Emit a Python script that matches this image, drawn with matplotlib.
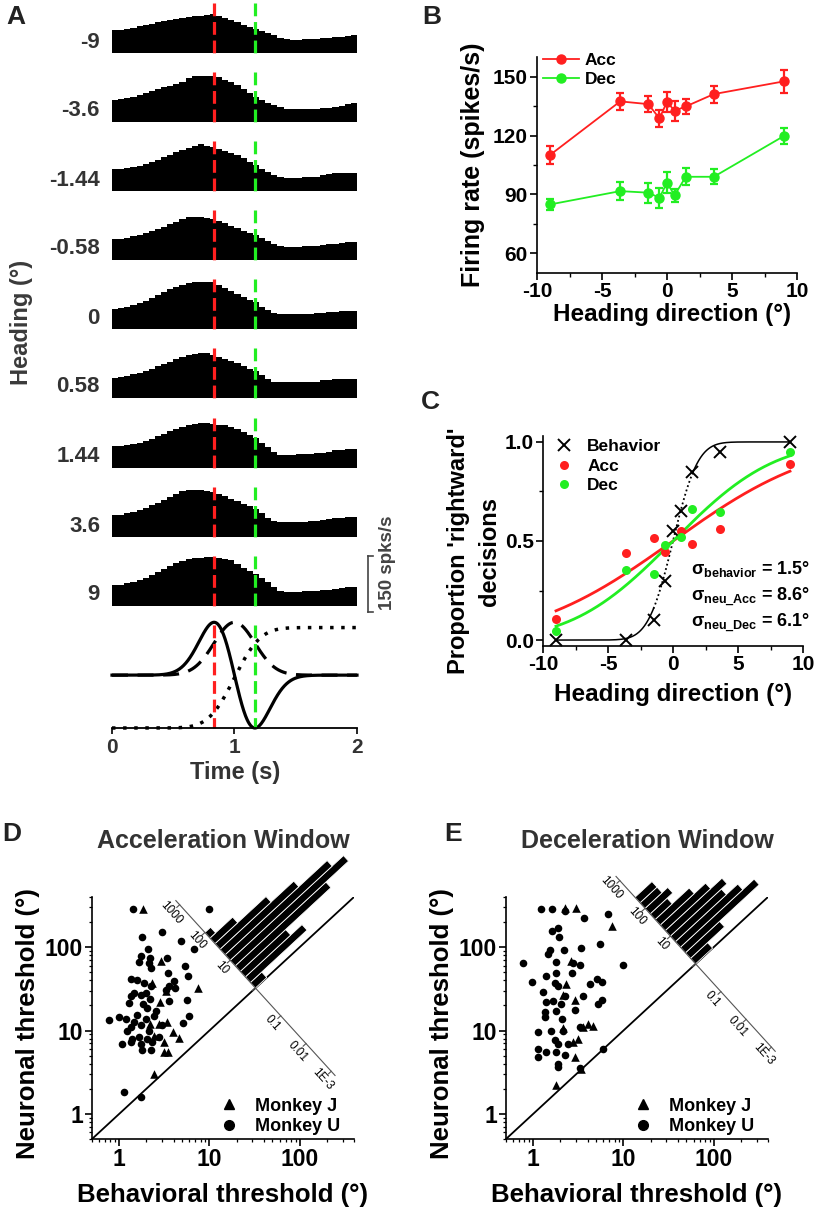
import numpy as np
import matplotlib
matplotlib.use("Agg")
import matplotlib.pyplot as plt
from matplotlib.transforms import Affine2D
from matplotlib.lines import Line2D
from matplotlib.ticker import MultipleLocator, FixedLocator, LogLocator, NullFormatter
from math import erf

plt.rcParams['font.family'] = ['Liberation Sans', 'DejaVu Sans']
plt.rcParams['font.weight'] = 'bold'
plt.rcParams['axes.labelweight'] = 'bold'
plt.rcParams['mathtext.fontset'] = 'custom'
plt.rcParams['mathtext.rm'] = 'Liberation Sans:bold'
plt.rcParams['mathtext.it'] = 'Liberation Sans:bold'
plt.rcParams['mathtext.bf'] = 'Liberation Sans:bold'
plt.rcParams['axes.unicode_minus'] = False

# ---------------------------------------------------------------- data
# Panel A : PSTHs (spikes/s), 40 bins of 50 ms over the 2-s stimulus
heading_labels = ['-9', '-3.6', '-1.44', '-0.58', '0', '0.58', '1.44', '3.6', '9']
psth_edges = np.linspace(0, 2, 41)
psth_m9 = [62, 62, 63, 67, 71, 75, 79, 82, 85, 88, 92, 95, 97, 99, 100, 102, 104, 100, 95, 88,
           82, 75, 70, 64, 59, 54, 47, 41, 37, 36, 36, 37, 37, 38, 39, 41, 42, 44, 46, 48]
psth_m36 = [60, 62, 65, 68, 72, 78, 84, 88, 93, 97, 101, 106, 118, 123, 124, 124, 124, 120, 113, 106,
            98, 88, 78, 66, 58, 52, 46, 40, 36, 35, 35, 35, 35, 36, 37, 38, 40, 44, 48, 52]
psth_m144 = [58, 59, 61, 64, 67, 72, 78, 84, 90, 97, 104, 110, 116, 121, 125, 121, 117, 113, 108, 103,
             96, 88, 79, 70, 60, 52, 44, 38, 36, 36, 36, 37, 37, 38, 42, 46, 47, 48, 49, 49]
psth_m058 = [55, 57, 60, 63, 67, 71, 77, 83, 89, 96, 103, 110, 115, 116, 116, 113, 109, 104, 98, 91,
             85, 79, 73, 67, 58, 50, 43, 37, 36, 36, 36, 37, 37, 38, 40, 42, 44, 46, 48, 49]
psth_0 = [54, 56, 60, 64, 69, 74, 82, 90, 99, 106, 112, 118, 124, 125, 125, 125, 125, 118, 110, 101,
          93, 85, 78, 71, 60, 50, 42, 40, 40, 40, 40, 41, 41, 42, 43, 45, 46, 47, 48, 49]
psth_p058 = [54, 56, 59, 63, 67, 72, 78, 85, 91, 97, 104, 110, 116, 119, 121, 120, 116, 111, 105, 99,
             93, 85, 78, 71, 61, 50, 43, 42, 42, 42, 42, 42, 42, 44, 48, 49, 50, 50, 51, 51]
psth_p144 = [58, 59, 61, 64, 67, 72, 78, 85, 92, 98, 104, 110, 116, 119, 121, 120, 118, 116, 114, 110,
             104, 97, 89, 80, 68, 55, 42, 36, 36, 36, 37, 37, 38, 39, 41, 44, 47, 49, 51, 52]
psth_p36 = [58, 60, 64, 68, 72, 78, 85, 92, 98, 106, 114, 122, 127, 127, 127, 124, 121, 115, 109, 103,
            96, 88, 82, 76, 64, 50, 42, 40, 40, 40, 41, 41, 42, 44, 46, 48, 50, 52, 53, 54]
psth_p9 = [55, 57, 61, 65, 69, 75, 83, 91, 100, 108, 115, 121, 127, 128, 129, 130, 130, 128, 125, 122,
           112, 102, 94, 87, 76, 64, 52, 41, 38, 38, 38, 39, 39, 40, 42, 44, 46, 48, 50, 51]
psth_rows = [psth_m9, psth_m36, psth_m144, psth_m058, psth_0, psth_p058, psth_p144, psth_p36, psth_p9]
t_acc_peak = 0.833
t_dec_peak = 1.167
stim_center = 1.0      # s, Gaussian velocity profile
stim_sigma = 1.0 / 6   # s
scale_bar_value = 150  # spks/s

# Panel B
headings = [-9, -3.6, -1.44, -0.58, 0, 0.58, 1.44, 3.6, 9]
acc_rate = [110.1, 137.4, 136.0, 128.7, 137.2, 132.6, 134.8, 141.1, 147.6]
acc_sem = [4.7, 4.3, 4.0, 4.5, 5.0, 5.0, 3.7, 4.3, 5.7]
dec_rate = [84.9, 91.7, 90.9, 88.3, 96.0, 89.5, 99.0, 99.0, 119.8]
dec_sem = [2.9, 4.4, 5.0, 5.0, 5.5, 3.3, 4.4, 3.8, 4.2]

# Panel C
behavior_prop = [0.0, 0.0, 0.10, 0.30, 0.55, 0.65, 0.85, 0.95, 1.0]
neu_headings = [-9, -3.6, -1.44, -0.58, 0.58, 1.44, 3.6, 9]
acc_prop = [0.104, 0.437, 0.513, 0.445, 0.551, 0.484, 0.56, 0.89]
dec_prop = [0.047, 0.353, 0.333, 0.482, 0.518, 0.66, 0.644, 0.951]
sigma_behavior = 1.5
sigma_acc = 8.6
sigma_dec = 6.1

# Panel D (acceleration window): behavioral / neuronal thresholds
d_u_beh = [1.43, 9.8, 3.02, 1.81, 4.84, 6.71, 2.09, 1.73, 2.20, 3.38, 1.66, 2.15, 5.37, 2.24, 3.50,
           5.75, 1.34, 1.59, 4.01, 1.89, 2.24, 3.59, 4.15, 3.29, 1.46, 1.97, 1.73, 1.34, 2.20, 3.59,
           5.65, 1.28, 1.85, 2.06, 2.55, 1.59, 0.77, 0.99, 1.18, 1.46, 1.97, 2.44, 6.01, 1.73, 1.34,
           1.23, 2.15, 5.06, 3.02, 1.40, 1.66, 2.06, 2.78, 1.08, 1.73, 2.34, 1.34, 1.81, 2.24, 1.13, 1.76]
d_u_neu = [286, 286, 151, 131, 118, 95, 95, 78, 75, 75, 66, 65, 59, 57, 49,
           45, 41, 40, 39, 37, 34, 34, 32, 31, 28.6, 28.6, 26.6, 26.1, 23.8, 22.8,
           23.4, 21.3, 20.8, 18.9, 17.3, 15.4, 13.2, 14.4, 13.8, 12.6, 13.8, 14.8, 14.8, 11.5, 11.0,
           10.0, 10.0, 12.3, 11.5, 8.0, 8.3, 8.0, 8.3, 6.9, 6.9, 7.3, 7.3, 5.9, 5.9, 1.81, 1.61]
d_j_beh = [1.85, 7.44, 2.89, 2.34, 2.85, 3.29, 2.20, 2.78, 3.38, 3.91, 4.65, 2.44, 3.16, 3.10, 3.44, 2.44]
d_j_neu = [286, 32, 68, 37, 21.7, 30, 12.0, 12.0, 12.6, 9.7, 8.1, 8.7, 7.3, 5.6, 5.6, 3.0]
# histogram of log10(neuronal/behavioral), bins of 0.2 decade starting at ratio 1
d_hist_counts = [2, 10, 8, 16, 20, 18, 13, 9, 4, 1]

# Panel E (deceleration window)
e_u_beh = [1.23, 1.63, 2.24, 3.65, 6.8, 1.63, 1.88, 1.94, 5.5, 3.43, 2.18, 1.52, 1.46, 0.78, 1.78,
           2.77, 3.29, 10.0, 1.40, 1.80, 2.72, 0.98, 1.73, 5.04, 4.25, 5.73, 1.28, 1.88, 3.58, 2.24,
           1.40, 1.66, 2.05, 5.73, 5.26, 2.89, 1.80, 1.34, 1.34, 2.11, 1.13, 1.59, 2.14, 3.29, 1.73,
           1.88, 2.44, 1.13, 1.40, 1.80, 1.13, 2.24, 1.88, 1.88, 5.98, 3.29]
e_u_neu = [286, 286, 268, 223, 252, 155, 170, 133, 109, 98, 92, 92, 82, 65, 66,
           65, 61, 61, 45, 49, 49, 38, 37, 41, 36, 38, 29, 34, 26, 26,
           22, 22.8, 21, 23.4, 20.8, 17.8, 17.3, 16.5, 14.4, 13.8, 9.5, 10, 10, 11, 7.6,
           6.9, 6.9, 6.05, 5.6, 5.5, 4.8, 5.1, 4.0, 3.66, 6.05, 3.56]
e_j_beh = [2.24, 3.02, 7.41, 2.65, 2.33, 2.14, 2.89, 2.14, 3.58, 4.07, 4.63, 3.15, 2.77, 2.89, 1.80, 3.43]
e_j_neu = [294, 294, 178, 68, 36, 27, 23.4, 10.7, 11, 12, 11.3, 8.0, 7.3, 4.8, 2.2, 3.5]
e_hist_counts = [3, 6, 13, 11, 9, 10, 8, 6, 3, 4, 3, 3]

hist_bin_width = 0.2
hist_tick_pos = [-3, -2, -1, 0, 1, 2, 3]
hist_tick_labels = ['1E-3', '0.01', '0.1', '', '10', '100', '1000']
thr_lim = (0.5, 400)

# ---------------------------------------------------------------- style
RED = '#ff1f1f'
GREEN = '#22ee22'
GREY = '#333333'

W, H = 820.0, 1215.0
fig = plt.figure(figsize=(8.2, 12.15), dpi=100)


def add_ax(x0, y0, x1, y1):
    return fig.add_axes([x0 / W, 1 - y1 / H, (x1 - x0) / W, (y1 - y0) / H])


def ftext(x, y, s, **kw):
    kw.setdefault('ha', 'center')
    kw.setdefault('va', 'center')
    return fig.text(x / W, 1 - y / H, s, **kw)


def ncdf(z):
    return 0.5 * (1 + np.vectorize(erf)(np.asarray(z) / np.sqrt(2)))


def style(ax, fs):
    for s in ['top', 'right']:
        ax.spines[s].set_visible(False)
    for s in ['left', 'bottom']:
        ax.spines[s].set_linewidth(1.2)
    ax.tick_params(which='major', direction='out', length=5, width=1.2, labelsize=fs, pad=1.5)
    ax.tick_params(which='minor', direction='out', length=3, width=1.0)


# ================================================================ Panel A
baselines = [53, 122, 191, 260, 329, 398, 468, 537, 606]
dash = (0, (4, 1.8))
for b, lab, vals in zip(baselines, heading_labels, psth_rows):
    ax = add_ax(112, b - 56, 357, b)
    ax.stairs(vals, psth_edges, fill=True, color='black', baseline=0)
    ax.plot([t_acc_peak, t_acc_peak], [135, 0], color=RED, lw=2.3, ls=dash, clip_on=False)
    ax.plot([t_dec_peak, t_dec_peak], [135, 0], color=GREEN, lw=2.3, ls=dash, clip_on=False)
    ax.set_xlim(0, 2)
    ax.set_ylim(0, 150)
    ax.set_axis_off()
    ftext(100, b - 11, lab, ha='right', fontsize=16, color=GREY)
    last_ax = ax

# scale bar on the last PSTH
sb_x = 2.09
last_ax.plot([sb_x, sb_x], [-15, -15 + scale_bar_value], color='#444', lw=1.2, clip_on=False)
last_ax.plot([sb_x, sb_x + 0.04], [-15, -15], color='#444', lw=1.2, clip_on=False)
last_ax.plot([sb_x, sb_x + 0.04], [-15 + scale_bar_value, -15 + scale_bar_value],
             color='#444', lw=1.2, clip_on=False)
ftext(388, 563, '150 spks/s', rotation=90, fontsize=13.5, color='#444')

ftext(22, 322, 'Heading (°)', rotation=90, fontsize=17, color='#3a3a3a')

# motion profile
axm = add_ax(112, 617, 357, 728)
t = np.linspace(0, 2, 801)
z = (t - stim_center) / stim_sigma
vel = np.exp(-0.5 * z ** 2)
acc = -z * np.exp(-0.5 * z ** 2) / np.exp(-0.5)
pos = -1 + 1.9 * ncdf(z)
axm.plot(t, acc, color='black', lw=2.3, clip_on=False)
axm.plot(t, vel, color='black', lw=2.3, ls=(0, (5, 3)), clip_on=False)
axm.plot(t, pos, color='black', lw=2.5, ls=(0, (1, 2.2)), clip_on=False)
axm.plot([t_acc_peak, t_acc_peak], [0.95, -1], color=RED, lw=2.3, ls=dash, clip_on=False)
axm.plot([t_dec_peak, t_dec_peak], [0.95, -1], color=GREEN, lw=2.3, ls=dash, clip_on=False)
axm.set_xlim(0, 2)
axm.set_ylim(-1, 1.1)
for s in ['top', 'right', 'left']:
    axm.spines[s].set_visible(False)
axm.spines['bottom'].set_linewidth(1.3)
axm.set_yticks([])
axm.set_xticks([0, 1, 2])
axm.set_xticklabels(['0', '1', '2'])
axm.tick_params(axis='x', direction='out', length=4, width=1.2, labelsize=15, labelcolor=GREY, pad=3)
ftext(235, 772, 'Time (s)', fontsize=17, color=GREY)

# ================================================================ Panel B
axB = add_ax(537, 57, 797, 273)
axB.errorbar(headings, acc_rate, yerr=acc_sem, color=RED, marker='o', ms=6.5, lw=1.3,
             elinewidth=1.6, capsize=3, capthick=1.6)
axB.errorbar(headings, dec_rate, yerr=dec_sem, color=GREEN, marker='o', ms=6.5, lw=1.3,
             elinewidth=1.6, capsize=3, capthick=1.6)
axB.set_xlim(-10, 10)
axB.set_ylim(50, 160)
axB.set_xticks([-10, -5, 0, 5, 10])
axB.set_yticks([60, 90, 120, 150])
axB.xaxis.set_minor_locator(MultipleLocator(2.5))
axB.yaxis.set_minor_locator(MultipleLocator(15))
style(axB, 15)
hB = [Line2D([0], [0], color=RED, marker='o', ms=6.5, lw=1.3),
      Line2D([0], [0], color=GREEN, marker='o', ms=6.5, lw=1.3)]
axB.legend(hB, ['Acc', 'Dec'], loc='upper left', bbox_to_anchor=(0.023, 1.02), frameon=False,
           fontsize=12.5, handlelength=2.1, handletextpad=0.3, labelspacing=0.25,
           borderpad=0, borderaxespad=0)
ftext(473, 165, 'Firing rate (spikes/s)', rotation=90, fontsize=18)
ftext(672, 314, 'Heading direction (°)', fontsize=17.5)

# ================================================================ Panel C
axC = add_ax(543, 436, 803, 646)
xf = np.linspace(-9, 9, 601)
beh_fit = ncdf(xf / sigma_behavior)
m1 = xf <= -1.5
m2 = (xf >= -1.5) & (xf <= 1.5)
m3 = xf >= 1.5
axC.plot(xf[m1], beh_fit[m1], color='black', lw=1.1)
axC.plot(xf[m2], beh_fit[m2], color='black', lw=1.3, ls=(0, (1, 1.5)))
axC.plot(xf[m3], beh_fit[m3], color='black', lw=1.1)
axC.plot(xf, ncdf(xf / sigma_acc), color=RED, lw=2.0)
axC.plot(xf, ncdf(xf / sigma_dec), color=GREEN, lw=2.0)
axC.plot(headings, behavior_prop, ls='none', marker='x', color='black', ms=8, mew=1.4, clip_on=False)
axC.plot(neu_headings, acc_prop, ls='none', marker='o', color=RED, ms=6.5, mew=0)
axC.plot(neu_headings, dec_prop, ls='none', marker='o', color=GREEN, ms=6.5, mew=0)
axC.set_xlim(-10, 10)
axC.set_ylim(-0.03, 1.03)
axC.set_xticks([-10, -5, 0, 5, 10])
axC.set_yticks([0, 0.5, 1.0])
axC.set_yticklabels(['0.0', '0.5', '1.0'])
axC.xaxis.set_minor_locator(MultipleLocator(2.5))
axC.yaxis.set_minor_locator(MultipleLocator(0.25))
style(axC, 15)
hC = [Line2D([0], [0], ls='none', marker='x', color='black', ms=8, mew=1.4),
      Line2D([0], [0], ls='none', marker='o', color=RED, ms=6.5, mew=0),
      Line2D([0], [0], ls='none', marker='o', color=GREEN, ms=6.5, mew=0)]
axC.legend(hC, ['Behavior', 'Acc', 'Dec'], loc='upper left', bbox_to_anchor=(0.05, 0.985),
           frameon=False, fontsize=12.5, handlelength=0.9, handletextpad=0.9, labelspacing=0.25,
           borderpad=0, borderaxespad=0)
ftext(810, 569, r'$\sigma_{\rm behavior}$ = 1.5°', ha='right', fontsize=13)
ftext(810, 597, r'$\sigma_{\rm neu\_Acc}$ = 8.6°', ha='right', fontsize=13)
ftext(810, 623, r'$\sigma_{\rm neu\_Dec}$ = 6.1°', ha='right', fontsize=13)
ftext(458, 551, "Proportion 'rightward'", rotation=90, fontsize=17)
ftext(490, 551, 'decisions', rotation=90, fontsize=17)
ftext(673, 694, 'Heading direction (°)', fontsize=17.5)


# ================================================================ Panels D, E
def threshold_panel(x0, x1, u_beh, u_neu, j_beh, j_neu, counts, c0, title, title_x, ylab_x):
    ax = add_ax(x0, 897, x1, 1139)
    ax.set_xscale('log')
    ax.set_yscale('log')
    ax.plot(thr_lim, thr_lim, color='black', lw=1.3)
    ax.scatter(u_beh, u_neu, marker='o', s=30, color='black', linewidths=0, clip_on=False)
    ax.scatter(j_beh, j_neu, marker='^', s=38, color='black', linewidths=0, clip_on=False)
    ax.set_xlim(thr_lim)
    ax.set_ylim(thr_lim)
    for a in (ax.xaxis, ax.yaxis):
        a.set_major_locator(FixedLocator([1, 10, 100]))
        a.set_minor_locator(LogLocator(base=10, subs=np.arange(2, 10)))
        a.set_minor_formatter(NullFormatter())
    ax.set_xticklabels(['1', '10', '100'])
    ax.set_yticklabels(['1', '10', '100'])
    style(ax, 16.5)
    ax.tick_params(which='minor', length=2.5, width=0.9)
    hl = [Line2D([0], [0], ls='none', marker='^', color='black', ms=7.5),
          Line2D([0], [0], ls='none', marker='o', color='black', ms=7)]
    ax.legend(hl, ['Monkey J', 'Monkey U'], loc='lower left', bbox_to_anchor=(0.49, 0.015),
              frameon=False, fontsize=13, handlelength=1.0, handletextpad=0.9, labelspacing=0.2,
              borderpad=0, borderaxespad=0)

    # rotated histogram of log10(neuronal / behavioral) along the unity line
    axh = fig.add_axes(ax.get_position())
    lim = (np.log10(thr_lim[0]), np.log10(thr_lim[1]))
    T = Affine2D.from_values(-0.28, 0.333, 0.0628, 0.0628, c0, c0) + axh.transData
    centers = hist_bin_width * (np.arange(len(counts)) + 0.5)
    axh.bar(centers, counts, width=hist_bin_width, color='black', edgecolor='white',
            linewidth=0.6, transform=T, clip_on=False)
    axh.plot([-3.15, 3.15], [0, 0], color='#555', lw=0.8, transform=T, clip_on=False)
    for L, lab in zip(hist_tick_pos, hist_tick_labels):
        axh.plot([L, L], [0, -0.5], color='#555', lw=0.8, transform=T, clip_on=False)
        if lab:
            axh.text(L, -1.45, lab, transform=T, rotation=-48, rotation_mode='anchor',
                     ha='center', va='center', fontsize=8.5, fontweight='normal')
    axh.set_xlim(lim)
    axh.set_ylim(lim)
    axh.set_axis_off()

    ftext(title_x, 841, title, fontsize=18, color=GREY)
    ftext((x0 + x1) / 2, 1195, 'Behavioral threshold (°)', fontsize=18.5)
    ftext(ylab_x, 1024, 'Neuronal threshold (°)', rotation=90, fontsize=18.5)


threshold_panel(92, 354, d_u_beh, d_u_neu, d_j_beh, d_j_neu, d_hist_counts, 1.51,
                'Acceleration Window', 223, 28)
threshold_panel(506, 768, e_u_beh, e_u_neu, e_j_beh, e_j_neu, e_hist_counts, 1.80,
                'Deceleration Window', 647, 442)

# panel letters
for L, (x, y) in zip('ABCDE', [(16, 17), (432, 17), (430, 402), (12, 834), (453, 834)]):
    ftext(x, y, L, fontsize=19, color='#222')

fig.savefig('out.png', dpi=100)
